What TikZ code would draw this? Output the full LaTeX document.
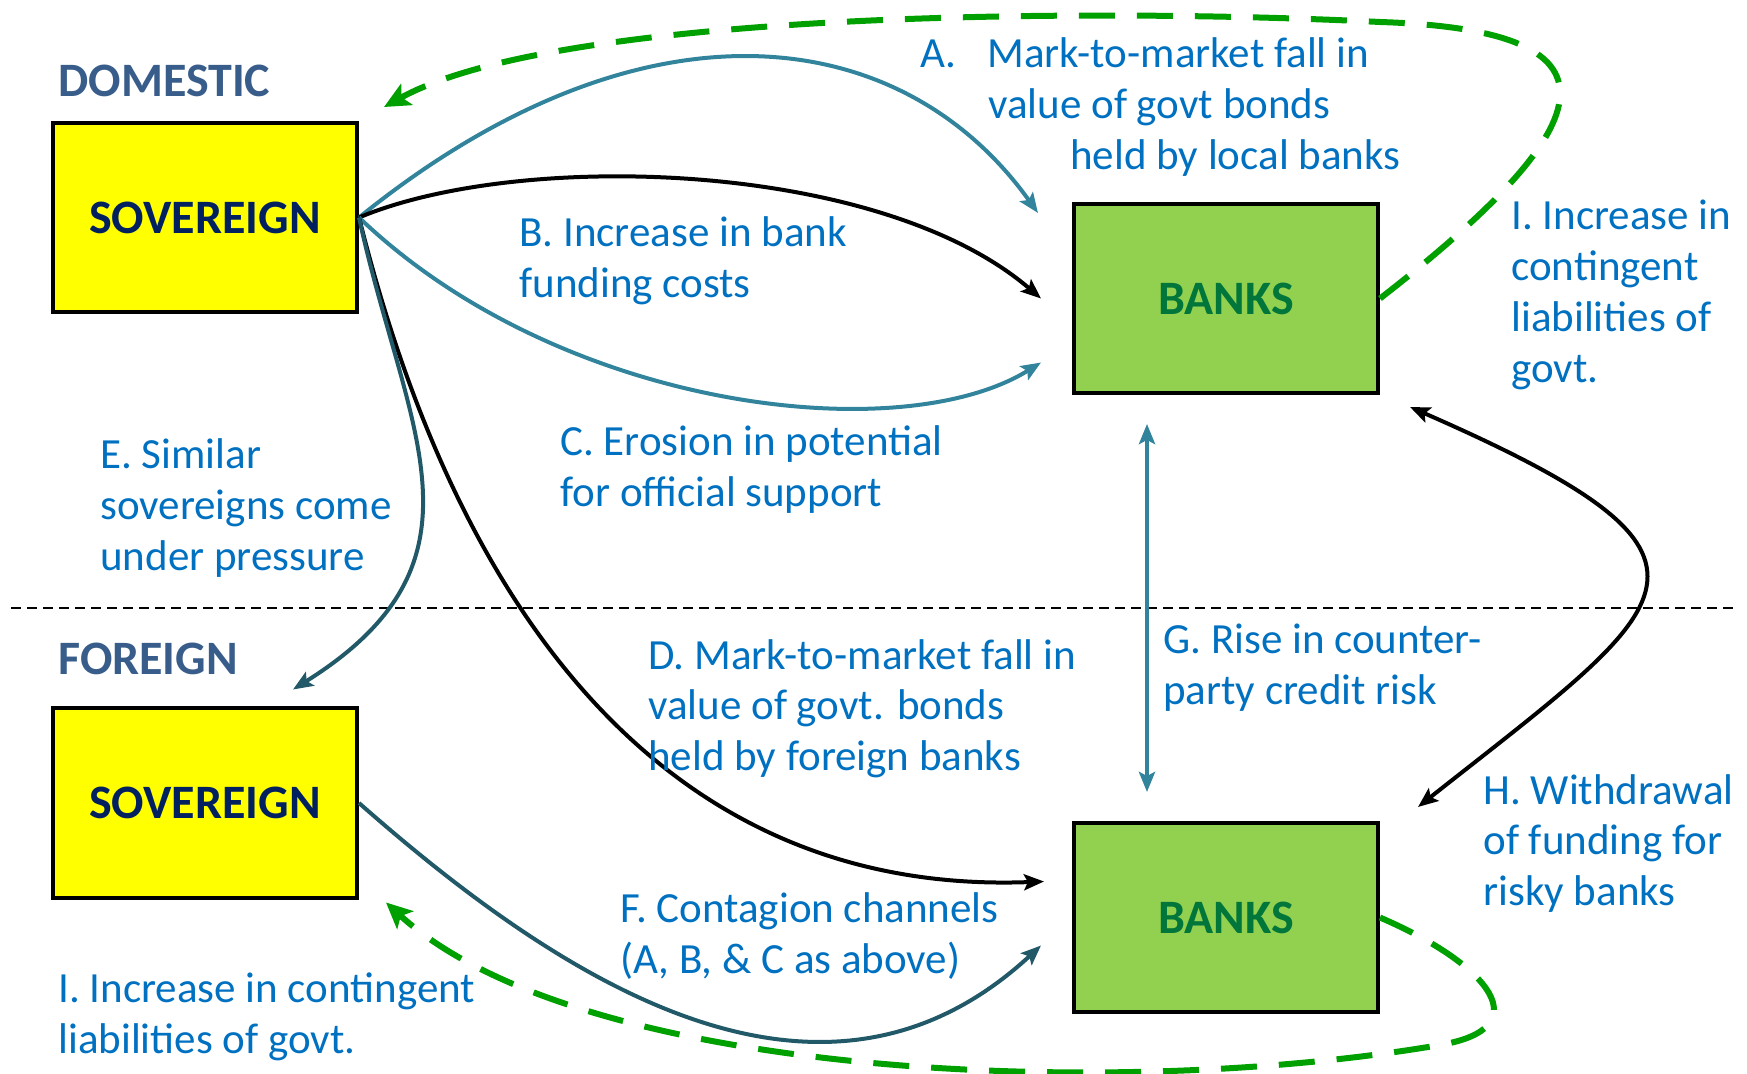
\documentclass[tikz,border=0pt]{standalone}
\usepackage{fontspec}
\setmainfont{Carlito}
\usetikzlibrary{calc,arrows.meta}

\definecolor{govyellow}{RGB}{255,255,0}
\definecolor{bankgreen}{RGB}{146,208,80}
\definecolor{sovtext}{RGB}{0,32,96}
\definecolor{banktext}{RGB}{0,118,58}
\definecolor{regiontext}{RGB}{56,93,138}
\definecolor{notetext}{RGB}{0,112,192}
\definecolor{tealline}{RGB}{49,132,155}
\definecolor{darkteal}{RGB}{33,89,104}
\definecolor{dashgreen}{RGB}{0,160,0}

\tikzset{
  box/.style={draw=black,line width=2pt,minimum width=152pt,minimum height=94.5pt,inner sep=0pt,
    font=\fontsize{24}{28}\selectfont\bfseries},
  region/.style={anchor=base west,inner sep=0pt,text=regiontext,font=\fontsize{24}{28}\selectfont\bfseries},
  note/.style={anchor=base west,align=left,inner sep=0pt,text=notetext,font=\fontsize{21.5}{25.5}\selectfont},
  link/.style={line width=2pt,-{Stealth[length=10pt,width=8pt,inset=2pt]}},
  support/.style={dash pattern=on 18pt off 11pt,line width=3pt,draw=dashgreen,
    -{Stealth[length=13pt,width=12pt,inset=3pt]}}
}

\begin{document}
\begin{tikzpicture}[x=0.5pt,y=-0.5pt]
\useasboundingbox (0,0) rectangle (1747,1074);

% boxes
\node[box,fill=govyellow,text=sovtext] (dsov) at (205,217.5) {SOVEREIGN};
\node[box,fill=bankgreen,text=banktext] (dbank) at (1226,298.5) {BANKS};
\node[box,fill=govyellow,text=sovtext] (fsov) at (205,803) {SOVEREIGN};
\node[box,fill=bankgreen,text=banktext] (fbank) at (1226,917.5) {BANKS};

\node[region] (dom) at (58,97) {DOMESTIC};
\node[region] (for) at (58,675) {FOREIGN};

% divider
\draw[line width=1pt,dash pattern=on 5pt off 3pt] (11,608) -- (1734,608);

% channels
\draw[link,draw=tealline] (dsov.east) .. controls (640,-10) and (900,20) .. ($(dbank.north west)+(-34,11)$);
\draw[link,draw=black] (dsov.east) .. controls (520,150) and (880,160) .. ($(dbank.west)+(-31,0)$);
\draw[link,draw=tealline] (dsov.east) .. controls (560,410) and (900,450) .. ($(dbank.west)+(-31,64)$);
\draw[link,draw=black] (dsov.east) .. controls (410,420) and (560,900) .. ($(fbank.west)+(-28,-36)$);
\draw[link,draw=darkteal] (dsov.east) .. controls (405,430) and (500,560) .. ($(fsov.north)+(88,-17)$);
\draw[link,draw=darkteal] (fsov.east) .. controls (560,980) and (820,1150) .. ($(fbank.west)+(-31,28)$);
\draw[link,draw=tealline,{Stealth[length=10pt,width=8pt,inset=2pt]}-{Stealth[length=10pt,width=8pt,inset=2pt]}]
  ($(dbank.south)+(-79,29)$) -- ($(fbank.north)+(-79,-29)$);
\draw[link,draw=black,{Stealth[length=10pt,width=8pt,inset=2pt]}-{Stealth[length=10pt,width=8pt,inset=2pt]}]
  ($(dbank.south east)+(30,12)$) .. controls (1760,560) and (1680,600) .. ($(fbank.north east)+(38,-14)$);

% contingent liabilities
\draw[support] (dbank.east) .. controls (1610,120) and (1630,30) .. (1380,22)
  .. controls (1100,8) and (560,10) .. ($(dsov.north east)+(25,-14)$);
\draw[support] (fbank.east) .. controls (1490,965) and (1540,1028) .. (1440,1045)
  .. controls (1120,1100) and (580,1080) .. ($(fsov.south east)+(27,3)$);

% labels
\node[note] (la) at (920,170) {\makebox[33.5pt][l]{A.}Mark-to-market fall in\\
  \hspace*{34pt}value of govt bonds\\ \hspace*{75pt}held by local banks};
\node[note] (lb) at (519,298) {B. Increase in bank\\funding costs};
\node[note] (lc) at (560,507) {C. Erosion in potential\\for official support};
\node[note] (ld) at (648,771) {D. Mark-to-market fall in\\value of govt. bonds\\held by foreign banks};
\node[note] (le) at (100,571) {E. Similar\\sovereigns come\\under pressure};
\node[note] (lf) at (620,973) {F. Contagion channels\\(A, B, \& C as above)};
\node[note] (lg) at (1163,705) {G. Rise in counter-\\party credit risk};
\node[note] (lh) at (1483,906) {H. Withdrawal\\of funding for\\risky banks};
\node[note] (li) at (1511,383) {I. Increase in\\contingent\\liabilities of\\govt.};
\node[note] (lj) at (58,1053) {I. Increase in contingent\\liabilities of govt.};
\end{tikzpicture}
\end{document}
